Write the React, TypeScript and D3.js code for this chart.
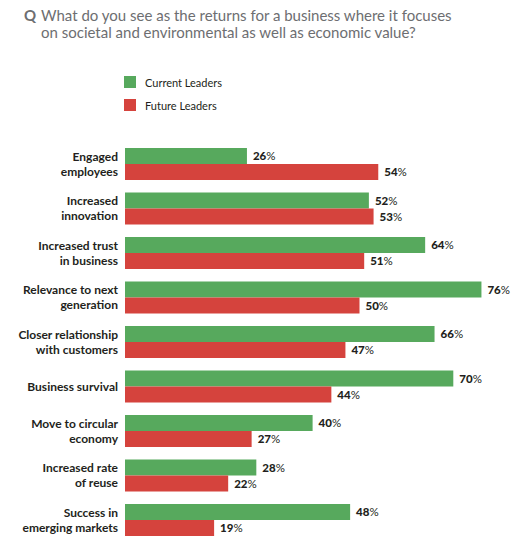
import * as d3 from "d3";
import { useEffect, useRef } from "react";

const categories = [
  ["Engaged", "employees"],
  ["Increased", "innovation"],
  ["Increased trust", "in business"],
  ["Relevance to next", "generation"],
  ["Closer relationship", "with customers"],
  ["Business survival"],
  ["Move to circular", "economy"],
  ["Increased rate", "of reuse"],
  ["Success in", "emerging markets"],
];
const currentLeaders = [26, 52, 64, 76, 66, 70, 40, 28, 48];
const futureLeaders = [54, 53, 51, 50, 47, 44, 27, 22, 19];
const seriesNames = ["Current Leaders", "Future Leaders"];
const colors = ["#57a95d", "#d5433d"];

export default function App() {
  const ref = useRef<SVGSVGElement | null>(null);

  useEffect(() => {
    const svg = d3.select(ref.current);
    svg.selectAll("*").remove();

    const W = 519;
    const H = 550;
    svg.attr("width", W).attr("height", H)
      .style("position", "absolute").style("left", "0px").style("top", "0px");
    const font = "Lato, 'Open Sans', sans-serif";

    // title
    const title = svg.append("text").attr("font-family", font).attr("font-size", 15).attr("fill", "#6d6e71");
    title.append("tspan").attr("x", 24).attr("y", 21).attr("font-weight", "bold").text("Q");
    title.append("tspan").attr("x", 41).attr("y", 21).text("What do you see as the returns for a business where it focuses");
    title.append("tspan").attr("x", 41).attr("y", 38).text("on societal and environmental as well as economic value?");

    // legend
    seriesNames.forEach((name, i) => {
      svg.append("rect").attr("x", 124).attr("y", 76 + i * 23).attr("width", 12).attr("height", 12).attr("fill", colors[i]);
      svg.append("text").attr("x", 145).attr("y", 86.5 + i * 23)
        .attr("font-family", font).attr("font-size", 11).attr("fill", "#231f20").text(name);
    });

    const x = d3.scaleLinear().domain([0, 100]).range([125, 125 + 469]);
    const y = d3.scaleBand().domain(d3.range(categories.length).map(String)).range([148, 148 + 44.5 * 9]).paddingInner(0);
    const barH = 16;

    const g = svg.append("g");
    categories.forEach((lines, i) => {
      const top = y(String(i))!;
      const vals = [currentLeaders[i], futureLeaders[i]];
      vals.forEach((v, j) => {
        const by = top + j * barH;
        g.append("rect").attr("x", x(0)).attr("y", by).attr("width", x(v) - x(0)).attr("height", barH).attr("fill", colors[j]);
        const t = g.append("text").attr("x", x(v) + 6).attr("y", by + barH / 2 + 4)
          .attr("font-family", font).attr("font-size", 11.5).attr("fill", "#231f20");
        t.append("tspan").attr("font-weight", "900").text(String(v));
        t.append("tspan").text("%");
      });
      const cy = top + barH;
      const lh = 15;
      const startY = cy - ((lines.length - 1) * lh) / 2 + 4;
      lines.forEach((ln, k) => {
        g.append("text").attr("x", 118).attr("y", startY + k * lh).attr("text-anchor", "end")
          .attr("font-family", font).attr("font-size", 12).attr("font-weight", "bold").attr("fill", "#231f20").text(ln);
      });
    });
  }, []);

  return <svg ref={ref}></svg>;
}
